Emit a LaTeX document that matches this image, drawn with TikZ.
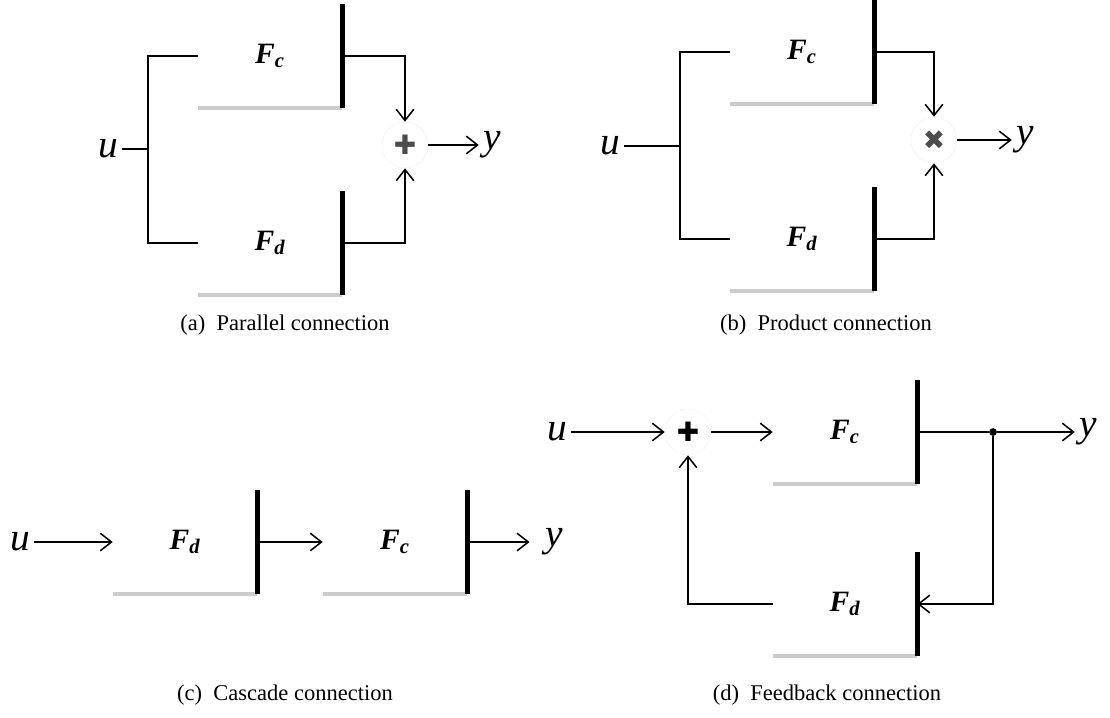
\documentclass[tikz,border=0pt]{standalone}
\usepackage{fontspec}
\setmainfont{Liberation Serif}
\newfontfamily\symfont{DejaVu Sans}
\usetikzlibrary{arrows.meta, positioning}
\tikzset{
    block/.style={
        rectangle, draw=none,
        minimum width=3.6cm, minimum height=2.575cm, inner sep=0pt,
        font=\fontsize{21}{24}\selectfont\bfseries\itshape
    },
    signal/.style={font=\fontsize{28}{32}\selectfont\itshape, inner sep=3pt},
    junction/.style={
        circle, draw=gray!30, densely dotted, minimum size=1.15cm, inner sep=0pt,
        font=\fontsize{19}{19}\selectfont\symfont
    },
    dot/.style={circle, fill=black, minimum size=5.5pt, inner sep=0pt},
    wire/.style={draw=black, line width=1.1pt},
    arrowwire/.style={wire, -{Straight Barb[length=2.8mm, width=4.4mm]}},
    barshadow/.style={draw=black, line width=3.8pt},
    floorshadow/.style={draw=gray!40, line width=3pt},
    caption/.style={font=\fontsize{16}{19}\selectfont}
}

\begin{document}
\begin{tikzpicture}[x=0.025cm, y=-0.025cm]
\useasboundingbox (0,0) rectangle (1110,717);

% (a) parallel
\node[signal] (a-u) at (108,149) {u};
\coordinate (a-split) at (148,149);
\node[block] (a-fc) at (270,56) {F\textsubscript{c}};
\node[block] (a-fd) at (270,243) {F\textsubscript{d}};
\node[junction, text=black!70] (a-sum) at (405,145) {✚};
\node[signal] (a-y) at (492,145) {y};
\node[caption] (a-cap) at (285,325) {(a)\enspace Parallel connection};

% (b) product
\node[signal] (b-u) at (610,146) {u};
\coordinate (b-split) at (680,146);
\node[block] (b-fc) at (802,52) {F\textsubscript{c}};
\node[block] (b-fd) at (802,239) {F\textsubscript{d}};
\node[junction, text=black!70] (b-sum) at (934,140) {✖};
\node[signal] (b-y) at (1025,140) {y};
\node[caption] (b-cap) at (826,325) {(b)\enspace Product connection};

% (c) cascade
\node[signal] (c-u) at (20,542) {u};
\node[block] (c-fd) at (185,542) {F\textsubscript{d}};
\node[block] (c-fc) at (395,542) {F\textsubscript{c}};
\node[signal] (c-y) at (554,542) {y};
\node[caption] (c-cap) at (285,695) {(c)\enspace Cascade connection};

% (d) feedback
\node[signal] (d-u) at (557,432) {u};
\node[junction] (d-sum) at (688,432) {✚};
\node[block] (d-fc) at (845,432) {F\textsubscript{c}};
\node[block] (d-fd) at (845,604) {F\textsubscript{d}};
\node[dot] (d-dot) at (993,432) {};
\node[signal] (d-y) at (1088,432) {y};
\node[caption] (d-cap) at (827,695) {(d)\enspace Feedback connection};

% shadows of the blocks
\foreach \b in {a-fc,a-fd,b-fc,b-fd,c-fd,c-fc,d-fc,d-fd} {
    \draw[floorshadow] (\b.south west) -- (\b.south east);
    \draw[barshadow] (\b.north east) -- (\b.south east);
}

% connections (a)
\draw[wire] (a-u) -- (a-split);
\draw[wire] (a-fc.west) -| (a-split) |- (a-fd.west);
\draw[arrowwire] (a-fc.east) -| (a-sum.north);
\draw[arrowwire] (a-fd.east) -| (a-sum.south);
\draw[arrowwire] (a-sum) -- (a-y);

% connections (b)
\draw[wire] (b-u) -- (b-split);
\draw[wire] (b-fc.west) -| (b-split) |- (b-fd.west);
\draw[arrowwire] (b-fc.east) -| (b-sum.north);
\draw[arrowwire] (b-fd.east) -| (b-sum.south);
\draw[arrowwire] (b-sum) -- (b-y);

% connections (c)
\draw[arrowwire] (c-u) -- (c-fd);
\draw[arrowwire] (c-fd) -- (c-fc);
\draw[arrowwire, shorten >=8pt] (c-fc) -- (c-y);

% connections (d)
\draw[arrowwire] (d-u) -- (d-sum);
\draw[arrowwire] (d-sum) -- (d-fc);
\draw[wire] (d-fc.east) -- (d-dot);
\draw[arrowwire] (d-dot) -- (d-y);
\draw[arrowwire] (d-dot) |- (d-fd.east);
\draw[arrowwire] (d-fd.west) -| (d-sum.south);

\end{tikzpicture}
\end{document}
